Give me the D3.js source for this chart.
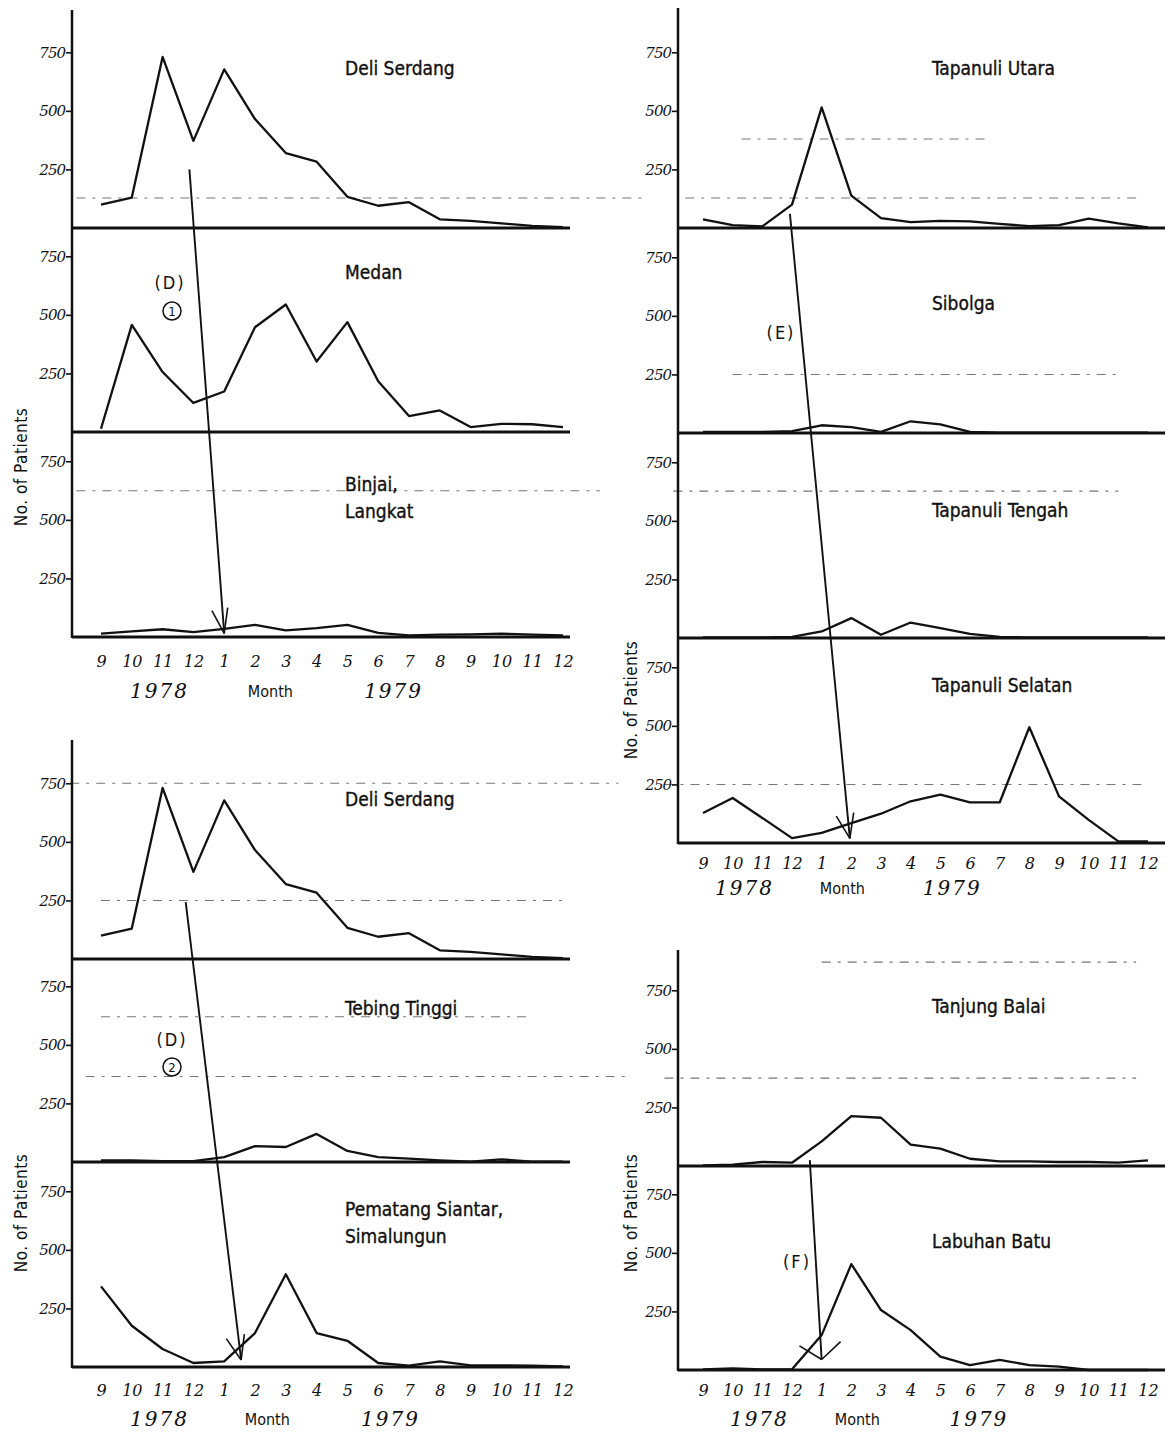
<!DOCTYPE html>
<html><head><meta charset="utf-8">
<script src="https://cdn.jsdelivr.net/npm/d3@7"></script>
<style>
body{margin:0;background:#fff}
svg text{fill:#111}
</style>
</head><body>
<svg id="chart" width="1168" height="1434"></svg>
<script>
// ---------------- DATA ----------------
const months = ["9","10","11","12","1","2","3","4","5","6","7","8","9","10","11","12"];
const yTicks = [250, 500, 750];
const yearLabels = ["1978", "Month", "1979"];
const yLabel = "No. of Patients";

const deliSerdang     = [100, 130, 730, 372, 677, 465, 320, 283, 133, 95, 110, 37, 30, 20, 9, 4];
const medan           = [14, 457, 256, 124, 173, 447, 544, 301, 469, 217, 68, 92, 21, 35, 33, 21];
const binjaiLangkat   = [14, 24, 33, 21, 35, 52, 28, 38, 52, 18, 7, 10, 11, 14, 10, 7];
const tapanuliUtara   = [37, 12, 7, 100, 515, 138, 42, 25, 30, 28, 18, 8, 12, 40, 20, 3];
const sibolga         = [5, 5, 5, 8, 33, 25, 5, 50, 37, 5, 2, 2, 2, 2, 2, 2];
const tapanuliTengah  = [3, 3, 3, 5, 28, 85, 14, 66, 42, 18, 5, 3, 3, 3, 3, 3];
const tapanuliSelatan = [128, 192, 107, 21, 43, 85, 125, 178, 206, 173, 173, 494, 199, 99, 7, 7];
const tebingTinggi    = [7, 7, 4, 4, 21, 68, 64, 120, 47, 21, 14, 7, 2, 11, 2, 1];
const pematangSiantar = [344, 176, 77, 17, 24, 145, 396, 145, 112, 17, 6, 24, 7, 7, 6, 3];
const tanjungBalai    = [3, 6, 17, 14, 105, 213, 206, 91, 74, 31, 20, 20, 17, 17, 14, 24];
const labuhanBatu     = [3, 7, 3, 3, 149, 452, 256, 170, 57, 21, 43, 21, 14, 0, 0, 0];

// ---------------- LAYOUT ----------------
const PANEL_H = 205, VMAX = 875;
const groups = [
  { axisX:72, x0:101, x1:563, xEnd:570, top:10, monthY:662, yearY:692,
    yearPos:[1.9, 5.5, 9.5], ylab:[22, 467],
    panels:[
      {title:["Deli Serdang"], data:deliSerdang, base:228, tdy:46, guides:[{v:128,a:-0.8,b:17.6}]},
      {title:["Medan"], data:medan, base:432, tdy:46, guides:[]},
      {title:["Binjai,","Langkat"], data:binjaiLangkat, base:637, tdy:53, guides:[{v:624,a:-0.8,b:16.2}]}
    ]},
  { axisX:678, x0:703, x1:1148, xEnd:1165, top:8, monthY:864, yearY:889,
    yearPos:[1.4, 4.7, 8.4], ylab:[632, 700],
    panels:[
      {title:["Tapanuli Utara"], data:tapanuliUtara, base:228, tdy:46, guides:[{v:128,a:-0.6,b:14.6},{v:380,a:1.3,b:9.5}]},
      {title:["Sibolga"], data:sibolga, base:433, tdy:76, guides:[{v:250,a:1,b:14}]},
      {title:["Tapanuli Tengah"], data:tapanuliTengah, base:638, tdy:78, guides:[{v:627,a:-1,b:14}]},
      {title:["Tapanuli Selatan"], data:tapanuliSelatan, base:843, tdy:48, guides:[{v:250,a:-1.3,b:14.8}]}
    ]},
  { axisX:72, x0:101, x1:563, xEnd:570, top:740, monthY:1391, yearY:1420,
    yearPos:[1.9, 5.4, 9.4], ylab:[22, 1213],
    panels:[
      {title:["Deli Serdang"], data:deliSerdang, base:959, tdy:46, guides:[{v:750,a:-1,b:16.8},{v:250,a:0,b:15}]},
      {title:["Tebing Tinggi"], data:tebingTinggi, base:1162, tdy:52, guides:[{v:620,a:0,b:14},{v:365,a:-0.5,b:17.2}]},
      {title:["Pematang Siantar,","Simalungun"], data:pematangSiantar, base:1367, tdy:48, guides:[]}
    ]},
  { axisX:678, x0:703, x1:1148, xEnd:1165, top:950, monthY:1391, yearY:1420,
    yearPos:[1.9, 5.2, 9.3], ylab:[632, 1213],
    panels:[
      {title:["Tanjung Balai"], data:tanjungBalai, base:1166, tdy:46, guides:[{v:870,a:4,b:14.6},{v:375,a:-1.3,b:14.6}]},
      {title:["Labuhan Batu"], data:labuhanBatu, base:1370, tdy:77, guides:[]}
    ]}
];

const arrows = [
  {from:[0,0,2.87,250], to:[0,2,4.0,15], arms:[-24,12]},
  {from:[2,0,2.75,243], to:[2,2,4.55,30], arms:[-28,14]},
  {from:[1,0,2.93,60],  to:[1,3,4.95,20], arms:[-26,14]},
  {from:[3,0,3.6,25],   to:[3,1,4.0,45],  arms:[-55,50]}
];
const notes = [
  {t:"(D)", x:170, y:284}, {circ:"1", x:172, y:311},
  {t:"(E)", x:781, y:334},
  {t:"(D)", x:172, y:1041}, {circ:"2", x:172, y:1067},
  {t:"(F)", x:797, y:1263}
];

// ---------------- DRAW ----------------
const svg = d3.select("#chart");
const condensed = "'DejaVu Sans Condensed','DejaVu Sans',sans-serif";
const handNum = "'DejaVu Serif','Liberation Serif',serif";

groups.forEach(g => {
  g.x = d3.scaleLinear().domain([0, 15]).range([g.x0, g.x1]);
  g.panels.forEach(p => {
    p.y = d3.scaleLinear().domain([0, VMAX]).range([p.base, p.base - PANEL_H]);
  });
});

const guideLayer = svg.append("g");
groups.forEach(g => {
  const G = svg.append("g");
  const last = g.panels[g.panels.length - 1];

  g.panels.forEach(p => {
    // faint ruled guide lines
    p.guides.forEach(gl => {
      guideLayer.append("line")
        .attr("x1", g.x(gl.a)).attr("x2", g.x(gl.b))
        .attr("y1", p.y(gl.v)).attr("y2", p.y(gl.v))
        .attr("stroke", "#777").attr("stroke-width", 1.1)
        .attr("stroke-dasharray", "9,7,3,7");
    });

    // y ticks
    const ax = d3.axisLeft(p.y).tickValues(yTicks).tickSize(6).tickPadding(1)
      .tickFormat(d3.format("d"));
    const ag = G.append("g").attr("transform", `translate(${g.axisX},0)`).call(ax);
    ag.select(".domain").remove();
    ag.selectAll(".tick line").attr("stroke", "#111").attr("stroke-width", 1.6);
    ag.selectAll(".tick text").attr("font-family", handNum).attr("font-style", "italic")
      .attr("font-size", 15).attr("letter-spacing", -1).attr("fill", "#111");

    // baseline
    G.append("line").attr("x1", g.axisX).attr("x2", g.xEnd)
      .attr("y1", p.base).attr("y2", p.base)
      .attr("stroke", "#111").attr("stroke-width", 2.8);

    // data line
    const line = d3.line().x((d, i) => g.x(i)).y(d => p.y(d));
    G.append("path").datum(p.data).attr("d", line)
      .attr("fill", "none").attr("stroke", "#111").attr("stroke-width", 2.3)
      .attr("stroke-linejoin", "round");

    // title
    const tx = g.axisX + (g.axisX < 300 ? 273 : 254);
    const t = G.append("text").attr("x", tx).attr("y", p.base - PANEL_H + p.tdy)
      .attr("font-family", condensed).attr("font-size", 19)
      .attr("stroke", "#111").attr("stroke-width", 0.35)
      .attr("dominant-baseline", "middle");
    p.title.forEach((s, k) => t.append("tspan").attr("x", tx).attr("dy", k ? 27 : 0).text(s));
  });

  // y axis line
  G.append("line").attr("x1", g.axisX).attr("x2", g.axisX)
    .attr("y1", g.top).attr("y2", last.base + 1)
    .attr("stroke", "#111").attr("stroke-width", 2.5);

  // month axis
  const mx = d3.axisBottom(g.x).tickValues(d3.range(16)).tickSize(0).tickPadding(0)
    .tickFormat(i => months[i]);
  const mg = G.append("g").attr("transform", `translate(0,${g.monthY})`).call(mx);
  mg.select(".domain").remove();
  mg.selectAll(".tick text").attr("font-family", handNum).attr("font-style", "italic")
    .attr("font-size", 16).attr("dy", 0).attr("dominant-baseline", "middle").attr("fill", "#111");

  // year / Month labels
  yearLabels.forEach((s, k) => {
    G.append("text").attr("x", g.x(g.yearPos[k])).attr("y", g.yearY)
      .attr("text-anchor", "middle").attr("dominant-baseline", "middle")
      .attr("font-family", k === 1 ? condensed : handNum)
      .attr("font-style", k === 1 ? "normal" : "italic")
      .attr("font-size", k === 1 ? 16 : 20).attr("letter-spacing", k === 1 ? 0 : 2)
      .text(s);
  });

  // y label
  G.append("text").attr("transform", `translate(${g.ylab[0]},${g.ylab[1]}) rotate(-90)`)
    .attr("text-anchor", "middle").attr("dominant-baseline", "middle")
    .attr("font-family", condensed).attr("font-size", 17).attr("letter-spacing", 0.5)
    .text(yLabel);
});

// arrows
const pt = a => { const g = groups[a[0]], p = g.panels[a[1]]; return [g.x(a[2]), p.y(a[3])]; };
arrows.forEach(a => {
  const [x1, y1] = pt(a.from), [x2, y2] = pt(a.to);
  svg.append("line").attr("x1", x1).attr("y1", y1).attr("x2", x2).attr("y2", y2)
    .attr("stroke", "#111").attr("stroke-width", 1.9);
  const ang = Math.atan2(y1 - y2, x1 - x2);
  a.arms.forEach(deg => {
    const r = ang + deg * Math.PI / 180;
    svg.append("line").attr("x1", x2).attr("y1", y2)
      .attr("x2", x2 + 26 * Math.cos(r)).attr("y2", y2 + 26 * Math.sin(r))
      .attr("stroke", "#111").attr("stroke-width", 1.6);
  });
});

// annotation labels
notes.forEach(n => {
  if (n.t) {
    svg.append("text").attr("x", n.x).attr("y", n.y).attr("text-anchor", "middle")
      .attr("dominant-baseline", "middle").attr("font-family", condensed)
      .attr("font-size", 18).attr("letter-spacing", 2).text(n.t);
  } else {
    svg.append("circle").attr("cx", n.x).attr("cy", n.y).attr("r", 9)
      .attr("fill", "none").attr("stroke", "#111").attr("stroke-width", 1.5);
    svg.append("text").attr("x", n.x).attr("y", n.y + 1).attr("text-anchor", "middle")
      .attr("dominant-baseline", "middle").attr("font-family", condensed)
      .attr("font-size", 13).text(n.circ);
  }
});
</script>
</body></html>
